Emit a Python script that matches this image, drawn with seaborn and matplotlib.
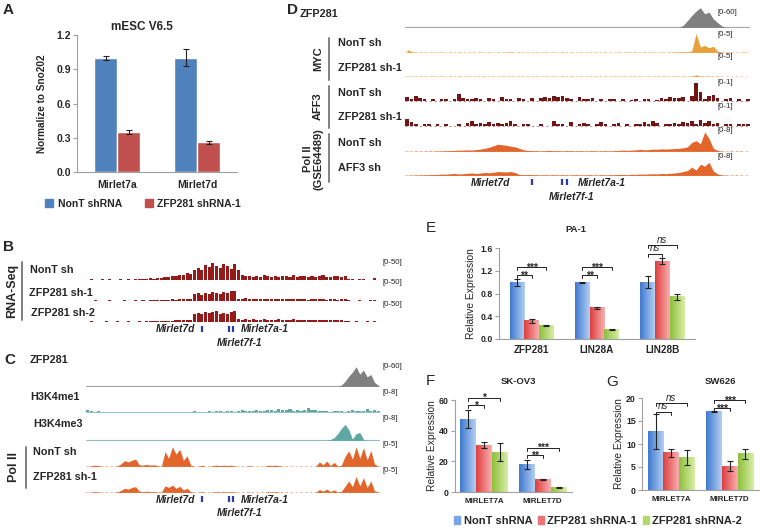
import numpy as np
import pandas as pd
import matplotlib
matplotlib.use("Agg")
import matplotlib.pyplot as plt
import seaborn as sns
from matplotlib.patches import Patch
from matplotlib.colors import LinearSegmentedColormap

# ---------------- data : panel A ----------------
a_genes = ["Mirlet7a", "Mirlet7d"]
a_groups = ["NonT shRNA", "ZFP281 shRNA-1"]
a_nont = [1.00, 1.00]
a_nont_err = [0.02, 0.075]
a_zfp = [0.35, 0.26]
a_zfp_err = [0.015, 0.015]

# ---------------- data : panels E, F, G ----------------
groups3 = ["NonT shRNA", "ZFP281 shRNA-1", "ZFP281 shRNA-2"]

e_genes = ["ZFP281", "LIN28A", "LIN28B"]
e_nont = [1.00, 1.00, 1.00]
e_nont_err = [0.06, 0.01, 0.10]
e_sh1 = [0.32, 0.55, 1.37]
e_sh1_err = [0.04, 0.02, 0.06]
e_sh2 = [0.23, 0.16, 0.74]
e_sh2_err = [0.01, 0.01, 0.06]
e_sig_low = ["**", "**", "ns"]
e_sig_low_y = [1.12, 1.12, 1.50]
e_sig_high = ["***", "***", "ns"]
e_sig_high_y = [1.27, 1.27, 1.65]

f_genes = ["MIRLET7A", "MIRLET7D"]
f_nont = [47.5, 18.0]
f_nont_err = [6.0, 3.0]
f_sh1 = [30.5, 8.2]
f_sh1_err = [2.0, 0.4]
f_sh2 = [26.0, 3.0]
f_sh2_err = [6.0, 0.3]
f_sig_low = ["*", "**"]
f_sig_low_y = [56.5, 24.0]
f_sig_high = ["*", "***"]
f_sig_high_y = [61.5, 29.0]

g_genes = ["MIRLET7A", "MIRLET7D"]
g_nont = [12.7, 17.0]
g_nont_err = [3.8, 0.1]
g_sh1 = [8.1, 5.2]
g_sh1_err = [0.9, 1.0]
g_sh2 = [7.0, 7.9]
g_sh2_err = [1.6, 1.1]
g_sig_low = ["ns", "***"]
g_sig_low_y = [17.0, 17.8]
g_sig_high = ["ns", "***"]
g_sig_high_y = [18.9, 19.6]

# ---------------- data : genome tracks (80 bins across window) ----------------
b_nont = [0, 1, 0, 0, 1, 0, 2, 0, 0, 1,
          0, 1, 0, 2, 1, 3, 2, 4, 3, 5,
          6, 9, 8, 12, 10, 15, 13, 20, 18, 28,
          35, 30, 45, 38, 50, 42, 36, 48, 40, 33,
          46, 30, 14, 10, 12, 9, 11, 8, 13, 10,
          9, 12, 8, 10, 11, 9, 14, 8, 10, 12,
          9, 11, 7, 10, 13, 9, 8, 11, 10, 9,
          12, 2, 1, 0, 3, 1, 0, 0, 4, 0]
b_sh1 = [0, 0, 1, 0, 0, 0, 1, 0, 0, 0,
         1, 0, 0, 1, 0, 1, 0, 2, 1, 2,
         2, 3, 2, 4, 3, 5, 4, 6, 5, 20,
         22, 18, 24, 21, 26, 23, 20, 25, 22, 30,
         28, 6, 5, 7, 4, 6, 5, 4, 6, 5,
         4, 5, 6, 4, 5, 4, 6, 5, 4, 5,
         3, 5, 4, 5, 4, 3, 5, 4, 3, 6,
         4, 1, 0, 0, 2, 0, 0, 1, 3, 0]
b_sh2 = [0, 1, 0, 0, 0, 1, 0, 0, 1, 0,
         0, 1, 0, 0, 1, 0, 1, 1, 2, 1,
         2, 2, 3, 3, 4, 4, 5, 5, 6, 22,
         26, 24, 30, 25, 28, 32, 24, 27, 22, 29,
         33, 7, 6, 8, 5, 7, 6, 5, 7, 6,
         5, 6, 7, 5, 6, 5, 7, 6, 5, 6,
         4, 6, 5, 6, 5, 4, 6, 5, 4, 5,
         3, 1, 0, 1, 0, 0, 1, 0, 2, 0]

c_zfp281 = [0, 0, 0, 0, 0, 0, 0, 0, 0, 0,
            0, 0, 0, 0, 0, 0, 0, 0, 0, 0,
            0, 0, 0, 0, 0, 0, 0, 0, 0, 0,
            0, 0, 0, 0, 0, 0, 0, 0, 0, 0,
            0, 0, 0, 0, 0, 0, 0, 0, 0, 0,
            0, 0, 0, 0, 0, 0, 0, 0, 0, 0,
            0, 0, 0, 0, 0, 0, 0, 0, 0, 4,
            15, 30, 42, 58, 36, 48, 28, 35, 12, 3]
c_h3k4me1 = [0.8, 0.5, 0.3, 0.4, 0.2, 0.3, 0.2, 0.1, 0.2, 0.3,
             0.2, 0.1, 0.3, 0.2, 0.1, 0.2, 0.1, 0.3, 0.2, 0.1,
             0.2, 0.3, 0.1, 0.2, 0.1, 0.2, 0.1, 0.3, 0.2, 0.4,
             0.2, 0.3, 0.2, 0.5, 0.3, 0.4, 0.6, 0.3, 0.5, 0.4,
             0.3, 0.5, 0.8, 0.4, 0.6, 0.5, 1.0, 0.6, 0.5, 0.8,
             1.2, 0.7, 1.5, 0.8, 1.0, 1.4, 0.7, 0.9, 0.6, 1.2,
             1.8, 1.0, 0.8, 0.5, 0.6, 0.4, 0.3, 0.5, 0.7, 0.4,
             0.3, 0.6, 1.0, 0.5, 0.4, 0.7, 1.4, 0.6, 0.8, 0.4]
c_h3k4me3 = [0, 0, 0, 0, 0, 0, 0, 0, 0, 0,
             0, 0, 0, 0, 0, 0, 0, 0, 0, 0,
             0, 0, 0, 0, 0, 0, 0, 0, 0, 0,
             0, 0, 0, 0, 0, 0, 0, 0, 0, 0,
             0, 0, 0, 0, 0, 0, 0, 0, 0, 0,
             0, 0, 0, 0, 0, 0, 0, 0, 0, 0,
             0, 0, 0, 0, 0, 0, 0.3, 1.0, 2.5, 4.5,
             6.0, 4.0, 0.5, 2.5, 3.0, 0.4, 0, 0, 0, 0]
c_pol_nont = [0, 0.2, 0.3, 0.2, 0, 0, 0, 0, 0.1, 0.6,
              1.4, 1.1, 1.5, 1.8, 0.4, 0.3, 0.5, 0.3, 0.4, 0.2,
              0, 3.6, 2.0, 4.8, 3.0, 4.2, 1.5, 2.6, 0.3, 0,
              0, 0.3, 0, 0, 0.2, 0.3, 0.2, 0.3, 0.2, 0.3,
              0.1, 0, 0, 0, 0.2, 0, 0, 0, 0, 0.3,
              0.2, 0.3, 0.2, 0, 0, 0, 0, 0, 0, 0,
              0, 0, 0, 1.1, 0.4, 1.3, 0.2, 1.0, 0.1, 0.3,
              2.5, 3.8, 1.8, 4.8, 2.0, 4.6, 1.6, 3.9, 0.6, 0.1]
c_pol_sh1 = [0, 0.1, 0.2, 0.1, 0, 0, 0, 0, 0.1, 0.5,
             1.0, 0.8, 1.2, 1.4, 0.3, 0.2, 0.3, 0.2, 0.2, 0.1,
             0, 1.6, 1.2, 1.8, 1.0, 1.5, 0.6, 1.0, 0.2, 0,
             0, 0.2, 0, 0, 0.1, 0.2, 0.1, 0.2, 0.1, 0.2,
             0.1, 0, 0, 0, 0.1, 0, 0, 0, 0, 0.2,
             0.1, 0.2, 0.1, 0, 0, 0, 0, 0, 0, 0,
             0, 0, 0, 0.7, 0.3, 0.8, 0.2, 0.6, 0.1, 0.3,
             1.5, 2.8, 1.4, 3.9, 1.6, 3.6, 1.2, 2.8, 0.4, 0.1]

d_zfp281 = [0, 0, 0, 0, 0, 0, 0, 0, 0, 0,
            0, 0, 0, 0, 0, 0, 0, 0, 0, 0,
            0, 0, 0, 0, 0, 0, 0, 0, 0, 0,
            0, 0, 0, 0, 0, 0, 0, 0, 0, 0,
            0, 0, 0, 0, 0, 0, 0, 0, 0, 0,
            0, 0, 0, 0, 0, 0, 0, 0, 0, 0,
            0, 0, 0, 0, 6, 20, 35, 48, 58, 40,
            45, 25, 14, 4, 0, 0, 0, 0, 0, 0]
d_myc_nont = [0.8, 0.2, 0.1, 0, 0.1, 0, 0.1, 0, 0.1, 0,
              0.1, 0, 0.1, 0, 0, 0.1, 0, 0.1, 0, 0.1,
              0, 0.1, 0, 0.1, 0.15, 0, 0.1, 0, 0.1, 0,
              0.1, 0, 0.15, 0, 0.1, 0, 0.1, 0, 0.1, 0,
              0.1, 0, 0.1, 0, 0.1, 0, 0.1, 0, 0, 0.1,
              0, 0.1, 0, 0.1, 0, 0.1, 0, 0.1, 0, 0.1,
              0, 0.1, 0.1, 0.15, 0.2, 0.2, 0.4, 4.9, 1.4, 1.8,
              1.2, 1.6, 0.3, 0.1, 0, 0.1, 0, 0, 0.1, 0]
d_myc_sh1 = [0.1, 0, 0.1, 0, 0.1, 0, 0.1, 0, 0.1, 0,
             0.1, 0, 0.1, 0, 0.1, 0, 0.1, 0, 0.1, 0,
             0.1, 0, 0.1, 0, 0.1, 0, 0.1, 0, 0.1, 0,
             0.1, 0, 0.1, 0, 0.1, 0, 0.1, 0, 0.1, 0,
             0.1, 0, 0.1, 0, 0.1, 0, 0.1, 0, 0.1, 0,
             0.1, 0, 0.1, 0, 0.1, 0, 0.1, 0, 0.1, 0,
             0.1, 0, 0.1, 0, 0.1, 0, 0.1, 0.4, 0.1, 0.1,
             0.1, 0, 0.1, 0, 0, 0, 0, 0, 0, 0]
d_aff3_nont = [0.25, 0.12, 0.3, 0.2, 0.15, 0, 0.1, 0, 0.12, 0.15,
               0, 0.1, 0.4, 0.2, 0.15, 0.12, 0.2, 0.1, 0, 0.2,
               0.15, 0, 0.22, 0.12, 0.1, 0, 0.18, 0.1, 0, 0.2,
               0, 0.18, 0.25, 0.2, 0.28, 0.22, 0.3, 0.2, 0.15, 0,
               0.22, 0.15, 0.1, 0.2, 0, 0.1, 0, 0.12, 0.1, 0,
               0.1, 0, 0.08, 0.1, 0, 0.12, 0.1, 0, 0.08, 0.2,
               0.15, 0.22, 0.18, 0.2, 0.25, 0, 0.3, 0.95, 0.5, 0.15,
               0.3, 0.35, 0.2, 0, 0.1, 0.18, 0, 0.12, 0, 0.15]
d_aff3_sh1 = [0.4, 0.25, 0.12, 0, 0.1, 0.12, 0, 0.1, 0, 0.12,
              0, 0, 0.1, 0, 0.2, 0.3, 0.15, 0.2, 0.1, 0.25,
              0.15, 0.2, 0.12, 0.2, 0.3, 0.1, 0, 0.12, 0.15, 0,
              0, 0.1, 0, 0, 0.3, 0.1, 0.12, 0, 0.25, 0,
              0.15, 0.2, 0.12, 0, 0.15, 0.25, 0.12, 0, 0.1, 0.2,
              0, 0.1, 0, 0.15, 0.12, 0.25, 0.15, 0.3, 0.2, 0,
              0.1, 0.15, 0.2, 0.12, 0.25, 0.2, 0.3, 0.12, 0.35, 0.2,
              0.28, 0.15, 0.2, 0, 0.1, 0.12, 0, 0.1, 0.15, 0.1]
d_pol_nont = [0.1, 0, 0.1, 0, 0.1, 0.1, 0.1, 0.2, 0.2, 0.3,
              0.3, 0.4, 0.5, 0.5, 0.6, 0.5, 0.7, 0.9, 1.2, 1.6,
              2.2, 2.8, 2.6, 2.4, 2.0, 1.8, 1.2, 0.6, 0.4, 0.3,
              0.3, 0.2, 0.3, 0.4, 0.3, 0.3, 0.2, 0.3, 0.3, 0.2,
              0.3, 0.2, 0.2, 0.3, 0.2, 0.2, 0.3, 0.2, 0.3, 0.4,
              0.5, 0.4, 0.5, 0.6, 0.8, 0.6, 0.7, 0.9, 0.8, 1.0,
              0.9, 1.0, 1.1, 1.2, 1.4, 1.8, 3.5, 4.2, 3.0, 7.6,
              5.0, 1.2, 0.4, 0.1, 0, 0.1, 0, 0.1, 0, 0]
d_pol_aff3 = [0.1, 0.1, 0.2, 0.2, 0.3, 0.3, 0.4, 0.4, 0.6, 0.5,
              0.7, 0.8, 0.6, 0.7, 0.9, 1.0, 0.8, 1.0, 1.2, 1.1,
              1.3, 1.6, 1.5, 1.4, 1.6, 1.2, 0.4, 0.3, 0.4, 0.3,
              0.3, 0.2, 0.3, 0.2, 0.3, 0.2, 0.3, 0.2, 0.2, 0.3,
              0.2, 0.2, 0.3, 0.2, 0.2, 0.3, 0.2, 0.3, 0.3, 0.4,
              0.4, 0.3, 0.5, 0.4, 0.6, 0.5, 0.6, 0.7, 0.6, 0.8,
              0.7, 0.9, 1.0, 1.2, 1.6, 2.0, 3.4, 2.2, 4.6, 3.8,
              5.4, 1.8, 0.6, 0.2, 0.1, 0, 0.1, 0, 0, 0]

bc_gene_pos = [0.395, 0.486, 0.500]
d_gene_pos = [0.368, 0.455, 0.470]

# ---------------- style ----------------
sns.set_style("white")
plt.rcParams["font.family"] = ["Liberation Sans", "DejaVu Sans"]
plt.rcParams["axes.linewidth"] = 0.8

W, H = 760, 531
fig = plt.figure(figsize=(7.6, 5.31), dpi=100)


def add_ax(x0, y0, x1, y1):
    return fig.add_axes([x0 / W, 1 - y1 / H, (x1 - x0) / W, (y1 - y0) / H])


def ftext(x, y, s, **kw):
    kw.setdefault("va", "center")
    fig.text(x / W, 1 - y / H, s, **kw)


SPINE = "#A0A0A0"


def style_axes(ax, ymax, yticks, ytl, tick_fs, cat_fs):
    ax.set_ylim(0, ymax)
    ax.set_yticks(yticks)
    ax.set_yticklabels(ytl, fontsize=tick_fs, fontweight="bold")
    for lab in ax.get_xticklabels():
        lab.set_fontsize(cat_fs)
        lab.set_fontweight("bold")
    for s in ["top", "right"]:
        ax.spines[s].set_visible(False)
    for s in ["left", "bottom"]:
        ax.spines[s].set_color(SPINE)
        ax.spines[s].set_linewidth(0.8)
    ax.tick_params(axis="y", length=3, width=0.8, color=SPINE, pad=1.5, direction="out", left=True)
    ax.tick_params(axis="x", length=0, pad=4)
    ax.set_xlabel("")
    ax.grid(False)


# ================= Panel A =================
ftext(3, 10, "A", fontsize=11, fontweight="bold")
ax = add_ax(77, 35, 237, 172)
dfa = pd.DataFrame({
    "gene": a_genes * 2,
    "group": [a_groups[0]] * 2 + [a_groups[1]] * 2,
    "value": a_nont + a_zfp,
})
sns.barplot(data=dfa, x="gene", y="value", hue="group", order=a_genes, hue_order=a_groups,
            palette=["#4F81BD", "#C0504D"], width=0.575, saturation=1, errorbar=None,
            legend=False, ax=ax)
for cont, errs in zip(ax.containers, [a_nont_err, a_zfp_err]):
    xs = [r.get_x() + r.get_width() / 2 for r in cont]
    ys = [r.get_height() for r in cont]
    ax.errorbar(xs, ys, yerr=errs, fmt="none", ecolor="#222222", elinewidth=0.8,
                capsize=2.2, capthick=0.8, zorder=5)
ax.set_xlim(-0.5, 1.5)
style_axes(ax, 1.2, [0, 0.3, 0.6, 0.9, 1.2], ["0.0", "0.3", "0.6", "0.9", "1.2"], 7.5, 7.5)
ax.tick_params(axis="x", pad=6)
ax.set_ylabel("Normalize to Sno202", fontsize=7.2, fontweight="bold")
ax.yaxis.set_label_coords(-0.19, 0.5)
ftext(142, 27, "mESC V6.5", ha="center", fontsize=8.5, fontweight="bold")
fig.legend(handles=[Patch(color="#4F81BD"), Patch(color="#C0504D")], labels=a_groups,
           loc="center", bbox_to_anchor=(143 / W, 1 - 204 / H), ncol=2, frameon=False,
           prop={"size": 7.5, "weight": "bold"}, handlelength=0.8, handleheight=0.8,
           handletextpad=0.4, columnspacing=2.2, borderaxespad=0)

# ================= Panels E, F, G =================
DARK = ["#3F79D2", "#DE3E3E", "#8DC03B"]
LIGHT = ["#B3CFF2", "#F8B0B0", "#D9EDA8"]
MID = ["#78A5E6", "#EB7373", "#B4D86E"]


def grad_bars(ax, conts):
    xl, yl = ax.get_xlim(), ax.get_ylim()
    for cont, cd, cl in zip(conts, DARK, LIGHT):
        cmap = LinearSegmentedColormap.from_list("g", [cd, cl])
        grad = np.linspace(0, 1, 64).reshape(1, -1)
        for r in cont:
            x0, w, h = r.get_x(), r.get_width(), r.get_height()
            r.set_facecolor("none")
            ax.imshow(grad, extent=[x0, x0 + w, 0, h], aspect="auto", cmap=cmap,
                      zorder=2, interpolation="bilinear")
    ax.set_xlim(xl)
    ax.set_ylim(yl)


def bracket(ax, x1, x2, y, txt, dy):
    ax.plot([x1, x1, x2, x2], [y - dy, y, y, y - dy], color="#222222", lw=0.7,
            clip_on=False, zorder=6)
    if txt == "ns":
        ax.annotate(txt, xy=((x1 + x2) / 2, y), xytext=(0, 0.3), textcoords="offset points",
                    ha="center", va="bottom", fontsize=7, style="italic",
                    annotation_clip=False)
    else:
        ax.annotate(txt, xy=((x1 + x2) / 2, y), xytext=(0, -2.6), textcoords="offset points",
                    ha="center", va="baseline", fontsize=7.5, fontweight="bold",
                    annotation_clip=False)


def three_bar(ax, genes, vals, errs, width, ymax, yticks, ytl, sig_low, sig_low_y,
              sig_high, sig_high_y, dy, cat_fs):
    df = pd.DataFrame({
        "gene": genes * 3,
        "group": [g for g in groups3 for _ in genes],
        "value": vals[0] + vals[1] + vals[2],
    })
    sns.barplot(data=df, x="gene", y="value", hue="group", order=genes, hue_order=groups3,
                palette=MID, width=width, saturation=1, errorbar=None, legend=False, ax=ax)
    ax.set_xlim(-0.5, len(genes) - 0.5)
    ax.set_ylim(0, ymax)
    conts = list(ax.containers)
    grad_bars(ax, conts)
    centers = []
    for cont, e in zip(conts, errs):
        xs = [r.get_x() + r.get_width() / 2 for r in cont]
        ys = [r.get_height() for r in cont]
        centers.append(xs)
        ax.errorbar(xs, ys, yerr=e, fmt="none", ecolor="#222222", elinewidth=0.8,
                    capsize=2.2, capthick=0.8, zorder=5)
    for i in range(len(genes)):
        bracket(ax, centers[0][i], centers[1][i], sig_low_y[i], sig_low[i], dy)
        bracket(ax, centers[0][i], centers[2][i], sig_high_y[i], sig_high[i], dy)
    style_axes(ax, ymax, yticks, ytl, 6.3, cat_fs)
    ax.set_ylabel("Relative Expression", fontsize=7.4)


axe = add_ax(499, 248, 695, 339)
three_bar(axe, e_genes, [e_nont, e_sh1, e_sh2], [e_nont_err, e_sh1_err, e_sh2_err], 0.67,
          1.6, [0, 0.4, 0.8, 1.2, 1.6], ["0.0", "0.4", "0.8", "1.2", "1.6"],
          e_sig_low, e_sig_low_y, e_sig_high, e_sig_high_y, 0.05, 7.2)
axe.yaxis.set_label_coords(-0.115, 0.5)

axf = add_ax(455, 400, 572, 492)
three_bar(axf, f_genes, [f_nont, f_sh1, f_sh2], [f_nont_err, f_sh1_err, f_sh2_err], 0.82,
          60, [0, 20, 40, 60], ["0", "20", "40", "60"],
          f_sig_low, f_sig_low_y, f_sig_high, f_sig_high_y, 2.0, 5.8)
axf.yaxis.set_label_coords(-0.155, 0.5)

axg = add_ax(642, 398, 759, 490)
three_bar(axg, g_genes, [g_nont, g_sh1, g_sh2], [g_nont_err, g_sh1_err, g_sh2_err], 0.8,
          20, [0, 5, 10, 15, 20], ["0", "5", "10", "15", "20"],
          g_sig_low, g_sig_low_y, g_sig_high, g_sig_high_y, 0.65, 5.8)
axg.yaxis.set_label_coords(-0.155, 0.5)

ftext(576, 229, "PA-1", ha="center", fontsize=6.8, fontweight="bold")
ftext(518, 381, "SK-OV3", ha="center", fontsize=6.8, fontweight="bold")
ftext(720, 382, "SW626", ha="center", fontsize=6.8, fontweight="bold")
fig.legend(handles=[Patch(color=c) for c in MID], labels=groups3, loc="center",
           bbox_to_anchor=(598 / W, 1 - 521 / H), ncol=3, frameon=False,
           prop={"size": 8, "weight": "bold"}, handlelength=0.55, handleheight=0.8,
           handletextpad=0.3, columnspacing=0.5, borderaxespad=0)

# ================= genome tracks =================
def track(x0, x1, top, base, vals, vmax, color, kind="fill", base_color=None, base_ls="-",
          base_lw=0.5):
    ax = add_ax(x0, top, x1, base)
    n = len(vals)
    xs = np.arange(n) + 0.5
    if kind == "bar":
        ax.bar(xs, vals, width=0.85, color=color, linewidth=0)
    else:
        ax.fill_between(xs, 0, vals, color=color, linewidth=0)
    ax.axhline(0, color=base_color or color, lw=base_lw, ls=base_ls, alpha=0.7)
    ax.set_xlim(0, n)
    ax.set_ylim(-vmax * 0.03, vmax)
    ax.axis("off")
    return ax


def genes_row(x0, x1, y, pos):
    ax = add_ax(x0, y - 4, x1, y + 4)
    ax.plot(pos, [0] * len(pos), ls="none", marker="|", ms=4, mew=1.6, color="#2B3AA8")
    ax.set_xlim(0, 1)
    ax.set_ylim(-1, 1)
    ax.axis("off")


RNA = "#951B1B"
GRAY = "#808080"
TEAL = "#5EA7A2"
POL = "#E2652B"
MYC = "#E9A23B"
AFF3 = "#741515"

LBL = dict(fontsize=7.8, fontweight="bold", ha="left")
RNG = dict(fontsize=5.6, ha="left", color="#222222")
GEN = dict(fontsize=7.4, fontweight="bold", style="italic")

# ---- Panel B ----
ftext(3, 247, "B", fontsize=11, fontweight="bold")
ftext(12, 291, "RNA-Seq", rotation=90, ha="center", fontsize=9, fontweight="bold")
fig.add_artist(plt.Line2D([22 / W, 22 / W], [1 - 262 / H, 1 - 320 / H], color="#808080", lw=1.4))
ftext(30, 270, "NonT sh", **LBL)
ftext(29, 293, "ZFP281 sh-1", **LBL)
ftext(31, 313, "ZFP281 sh-2", **LBL)
track(86, 380, 263, 280, b_nont, 50, RNA, "bar", base_color="#E8A0A0")
track(86, 380, 284, 301, b_sh1, 50, RNA, "bar", base_ls=(0, (3, 3)))
track(86, 380, 305, 322, b_sh2, 50, RNA, "bar", base_ls=(0, (3, 3)))
for y in [262, 283, 304]:
    ftext(383, y, "[0-50]", **RNG)
genes_row(86, 380, 329, bc_gene_pos)
ftext(195, 329, "Mirlet7d", ha="right", **GEN)
ftext(241, 329, "Mirlet7a-1", ha="left", **GEN)
ftext(240, 343, "Mirlet7f-1", ha="center", **GEN)

# ---- Panel C ----
ftext(4, 360, "C", fontsize=11, fontweight="bold")
ftext(30, 360, "ZFP281", **LBL)
ftext(30, 397, "H3K4me1", **LBL)
ftext(33, 424, "H3K4me3", **LBL)
ftext(33, 452, "NonT sh", **LBL)
ftext(33, 477, "ZFP281 sh-1", **LBL)
ftext(14, 467, "Pol II", rotation=90, ha="center", fontsize=9, fontweight="bold")
fig.add_artist(plt.Line2D([26 / W, 26 / W], [1 - 447 / H, 1 - 488 / H], color="#808080", lw=1.4))
track(86, 380, 366, 387, c_zfp281, 60, GRAY, "fill", base_lw=0.9)
track(86, 380, 393, 413, c_h3k4me1, 8, TEAL, "bar", base_lw=0.7)
track(86, 380, 419, 441, c_h3k4me3, 8, TEAL, "fill", base_lw=0.8)
track(86, 380, 446, 467, c_pol_nont, 5, POL, "fill", base_ls=(0, (3, 4)))
track(86, 380, 472, 493, c_pol_sh1, 5, POL, "fill", base_ls=(0, (3, 4)))
for y, s in zip([366, 393, 419, 445, 470], ["[0-60]", "[0-8]", "[0-8]", "[0-5]", "[0-5]"]):
    ftext(383, y, s, **RNG)
genes_row(86, 380, 499, bc_gene_pos)
ftext(195, 500, "Mirlet7d", ha="right", **GEN)
ftext(241, 500, "Mirlet7a-1", ha="left", **GEN)
ftext(240, 513, "Mirlet7f-1", ha="center", **GEN)

# ---- Panel D ----
ftext(287, 10, "D", fontsize=11, fontweight="bold")
ftext(300, 14, "ZFP281", **LBL)
ftext(318, 59, "MYC", rotation=90, ha="center", fontsize=8, fontweight="bold")
ftext(318, 106, "AFF3", rotation=90, ha="center", fontsize=8, fontweight="bold")
ftext(313, 159, "Pol II\n(GSE64489)", rotation=90, ha="center", fontsize=8,
      fontweight="bold", linespacing=1.0, multialignment="center")
for y0, y1 in [(38, 80), (86, 128), (134, 182)]:
    fig.add_artist(plt.Line2D([329 / W, 329 / W], [1 - y0 / H, 1 - y1 / H], color="#808080", lw=1.4))
ftext(338, 43, "NonT sh", **LBL)
ftext(338, 68, "ZFP281 sh-1", **LBL)
ftext(338, 93, "NonT sh", **LBL)
ftext(338, 117, "ZFP281 sh-1", **LBL)
ftext(338, 143, "NonT sh", **LBL)
ftext(338, 168, "AFF3 sh", **LBL)
track(405, 750, 7, 28, d_zfp281, 60, GRAY, "fill", base_lw=0.9)
track(405, 750, 33, 53, d_myc_nont, 5, MYC, "fill", base_ls=(0, (3, 4)))
track(405, 750, 57, 77, d_myc_sh1, 5, MYC, "fill", base_ls=(0, (3, 4)))
track(405, 750, 82, 102, d_aff3_nont, 1, AFF3, "bar", base_ls=(0, (3, 4)))
track(405, 750, 107, 127, d_aff3_sh1, 1, AFF3, "bar", base_ls=(0, (3, 4)))
track(405, 750, 131, 152, d_pol_nont, 8, POL, "fill", base_ls=(0, (3, 4)))
track(405, 750, 156, 176, d_pol_aff3, 8, POL, "fill", base_ls=(0, (3, 4)))
for y, s in zip([13, 35, 57, 82, 107, 130, 157],
                ["[0-60]", "[0-5]", "[0-5]", "[0-1]", "[0-1]", "[0-8]", "[0-8]"]):
    ftext(718, y, s, **RNG)
genes_row(405, 750, 182, d_gene_pos)
ftext(510, 183, "Mirlet7d", ha="right", **GEN)
ftext(578, 183, "Mirlet7a-1", ha="left", **GEN)
ftext(572, 197, "Mirlet7f-1", ha="center", **GEN)

# ---- letters E F G ----
ftext(426, 228, "E", fontsize=11)
ftext(426, 381, "F", fontsize=11)
ftext(606, 382, "G", fontsize=11)

fig.savefig("out.png", dpi=100)
